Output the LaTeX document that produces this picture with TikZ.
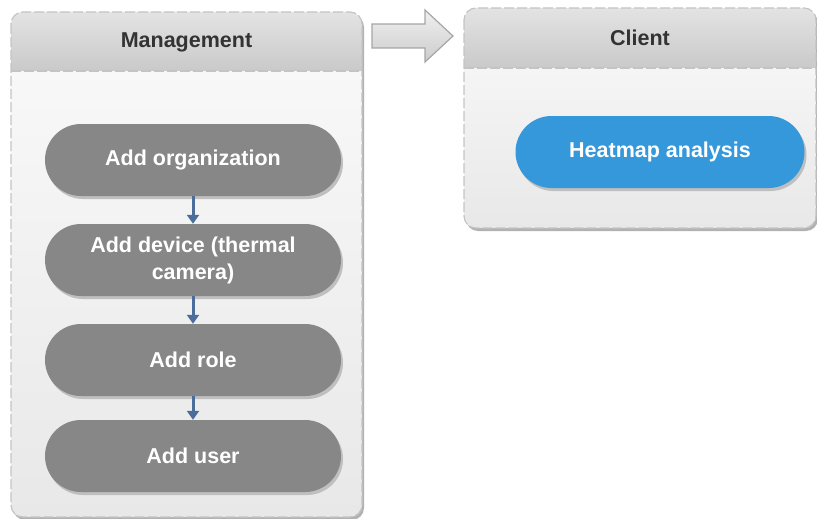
\documentclass[tikz,border=0pt]{standalone}
\usepackage{fontspec}
\setmainfont{Liberation Sans}
\usetikzlibrary{arrows.meta,shadows}

\definecolor{stepgray}{HTML}{878787}
\definecolor{stepblue}{HTML}{3598DB}
\definecolor{flowblue}{HTML}{4A6E99}
\definecolor{lanetext}{HTML}{333333}
\definecolor{laneline}{HTML}{C4C4C4}

\tikzset{
  lanebody/.style={rounded corners=12pt, top color=white!98!black, bottom color=black!9},
  lanehead/.style={top color=black!11, bottom color=black!21},
  laneedge/.style={draw=laneline, line width=1.2pt, dash pattern=on 10pt off 3pt},
  lanelabel/.style={font=\bfseries\fontsize{21.5}{24}\selectfont, text=lanetext},
  stepnode/.style={fill=stepgray, text=white, rounded corners=36pt,
    minimum width=296pt, minimum height=72pt, align=center,
    font=\bfseries\fontsize{21.5}{27}\selectfont,
    drop shadow={shadow xshift=2pt, shadow yshift=-3pt, fill=black!25, opacity=1}},
  flow/.style={draw=flowblue, line width=3pt, -{Triangle[width=12pt,length=9pt]}}
}

\begin{document}
\begin{tikzpicture}[x=1pt, y=-1pt]
  \useasboundingbox (0,0) rectangle (817,519);

  % Management lane
  \fill[black!30, rounded corners=12pt] (13,15) rectangle (364,520);
  \shade[lanebody] (11,12) rectangle (362,517);
  \shade[lanehead] (11,71) [rounded corners=12pt] -- (11,12) -- (362,12) [sharp corners] -- (362,71) -- cycle;
  \draw[laneedge, rounded corners=12pt] (11,12) rectangle (362,517);
  \draw[laneedge] (11,71) -- (362,71);
  \node[lanelabel] (mgmt) at (186.5,42) {Management};

  % Client lane
  \fill[black!30, rounded corners=12pt] (466,11) rectangle (818,231);
  \shade[lanebody] (464,8) rectangle (816,228);
  \shade[lanehead] (464,68) [rounded corners=12pt] -- (464,8) -- (816,8) [sharp corners] -- (816,68) -- cycle;
  \draw[laneedge, rounded corners=12pt] (464,8) rectangle (816,228);
  \draw[laneedge] (464,68) -- (816,68);
  \node[lanelabel] (client) at (640,38) {Client};

  % big arrow between the lanes
  \shade[top color=black!6, bottom color=black!20, draw=black!35, line width=1.2pt]
    (372,24) -- (425,24) -- (425,10) -- (453,36) -- (425,62) -- (425,48) -- (372,48) -- cycle;

  % steps
  \node[stepnode] (org)    at (193,160) {Add organization};
  \node[stepnode] (device) at (193,260) {Add device (thermal\\camera)};
  \node[stepnode] (role)   at (193,360) {Add role};
  \node[stepnode] (user)   at (193,456) {Add user};
  \node[stepnode, fill=stepblue, minimum width=289pt] (heatmap) at (660,152) {Heatmap analysis};

  \draw[flow] (org) -- (device);
  \draw[flow] (device) -- (role);
  \draw[flow] (role) -- (user);
\end{tikzpicture}
\end{document}
